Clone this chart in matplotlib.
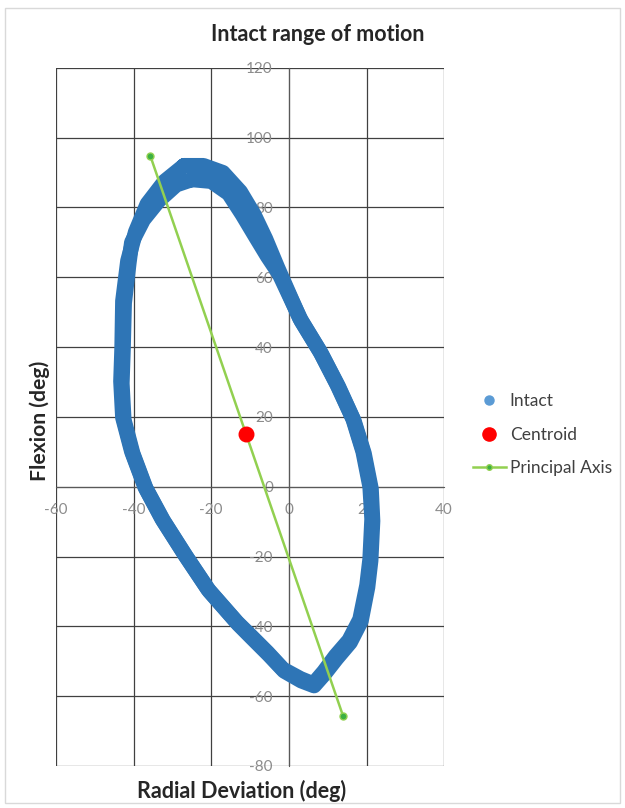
import matplotlib
matplotlib.use("Agg")
import matplotlib.pyplot as plt
from matplotlib.patches import Rectangle
from matplotlib.lines import Line2D

plt.rcParams['font.family'] = ['Lato', 'DejaVu Sans']
plt.rcParams['axes.unicode_minus'] = False

# traced wrist motion loop (radial deviation, flexion), two passes that split near the top
pass_a_x = [-27, -22, -17, -12.5, -9, -6, -3, 2.8, 8.0, 12.4, 16.5, 19.1, 20.9, 21.4, 20.9, 20.1,
            18.3, 15.5, 12, 9, 6.3, 3, -1.5, -5.5, -10, -13.4, -20.9, -26.8, -32.7, -37.1, -40.5,
            -42.8, -43.3, -43.0, -42.8, -41.5, -39.5, -36.5, -32, -27]
pass_a_y = [92, 92, 90, 84.5, 78, 71, 63, 48.3, 38.8, 29.3, 19.5, 10.1, 0, -9.2, -20.7, -28.2,
            -38, -44, -48.5, -53, -56.5, -55, -52.3, -47.5, -42.5, -38.8, -29.3, -19.5, -9.2, 0, 10.1,
            19.8, 30.2, 39.9, 53.2, 64.7, 73, 81, 87.5, 92]
pass_b_x = [-25, -20, -15.5, -12, -8.5, -5.5, -2.5, 3.2, 8.4, 12.8, 16.8, 19.4, 21.2, 21.6, 21.1, 20.3,
            18.6, 15.8, 12.3, 9.2, 6.5, 3.2, -1.2, -5.2, -9.7, -13.0, -20.5, -26.4, -32.3, -36.8, -40.2,
            -42.5, -43.0, -42.7, -42.4, -41.2, -40.5, -37.5, -33.5, -29, -25]
pass_b_y = [88, 87.5, 84, 78, 71.5, 66, 61, 47.5, 38, 28.6, 18.8, 9.5, -0.6, -9.8, -21.2, -28.8,
            -38.5, -44.6, -49.2, -53.6, -57, -55.6, -52.8, -48.1, -43.1, -39.4, -29.9, -20.1, -9.8, -0.6, 9.5,
            19.2, 29.6, 39.3, 52.6, 64.1, 70, 76.5, 82, 86.5, 88]

centroid = (-11, 15)
axis_x = [-35.7, 14.0]
axis_y = [94.8, -65.8]

fig = plt.figure(figsize=(6.25, 8.08), dpi=100)
ax = fig.add_axes([0.0896, 0.052, 0.621, 0.864])

blue = '#2e75b6'
for xs, ys in [(pass_a_x, pass_a_y), (pass_b_x, pass_b_y)]:
    ax.plot(xs, ys, color=blue, linewidth=11, solid_capstyle='round',
            solid_joinstyle='round', zorder=3)
ax.scatter(pass_a_x + pass_b_x, pass_a_y + pass_b_y, s=30, color=blue, zorder=3)

ax.plot(axis_x, axis_y, color='#92d050', linewidth=1.8, zorder=4)
ax.plot(axis_x, axis_y, linestyle='none', marker='o', markersize=5,
        markerfacecolor='#3cb043', markeredgecolor='#92d050', zorder=5)
ax.scatter([centroid[0]], [centroid[1]], s=110, color='#ff0000', zorder=6)

ax.set_xlim(-60, 40)
ax.set_ylim(-80, 120)
ax.set_xticks(range(-60, 41, 20))
ax.set_yticks(range(-80, 121, 20))
ax.grid(True, color='#404040', linewidth=0.9)

for s in ['top', 'right']:
    ax.spines[s].set_visible(False)
ax.spines['left'].set_position(('data', 0))
ax.spines['bottom'].set_position(('data', 0))
ax.spines['left'].set_color('#595959')
ax.spines['bottom'].set_color('#595959')
ax.tick_params(axis='both', length=0, labelsize=11, labelcolor='#8c8c8c')
ax.tick_params(axis='y', pad=11.5)
ax.tick_params(axis='x', pad=11.5)

fig.text(0.509, 0.957, 'Intact range of motion', ha='center', va='center',
         fontsize=15.5, fontweight='bold', color='#262626')
fig.text(0.387, 0.021, 'Radial Deviation (deg)', ha='center', va='center',
         fontsize=15.5, fontweight='bold', color='#262626')
fig.text(0.064, 0.479, 'Flexion (deg)', ha='center', va='center', rotation=90,
         fontsize=15.2, fontweight='bold', color='#262626')

handles = [
    Line2D([], [], linestyle='none', marker='o', markersize=6.5, color='#5b9bd5'),
    Line2D([], [], linestyle='none', marker='o', markersize=9.5, color='#ff0000'),
    Line2D([], [], color='#92d050', linewidth=1.8, marker='o', markersize=4,
           markerfacecolor='#3cb043', markeredgecolor='#92d050'),
]
fig.legend(handles, ['Intact', 'Centroid', 'Principal Axis'], loc='center left',
           bbox_to_anchor=(0.756, 0.462), frameon=False, fontsize=12.5,
           handlelength=1.95, handletextpad=0.2, labelspacing=1.0,
           borderpad=0, borderaxespad=0, labelcolor='#404040')

fig.add_artist(Rectangle((0.008, 0.006), 0.984, 0.984, transform=fig.transFigure,
                         fill=False, edgecolor='#d9d9d9', linewidth=1))

fig.savefig('out.png', dpi=100)
